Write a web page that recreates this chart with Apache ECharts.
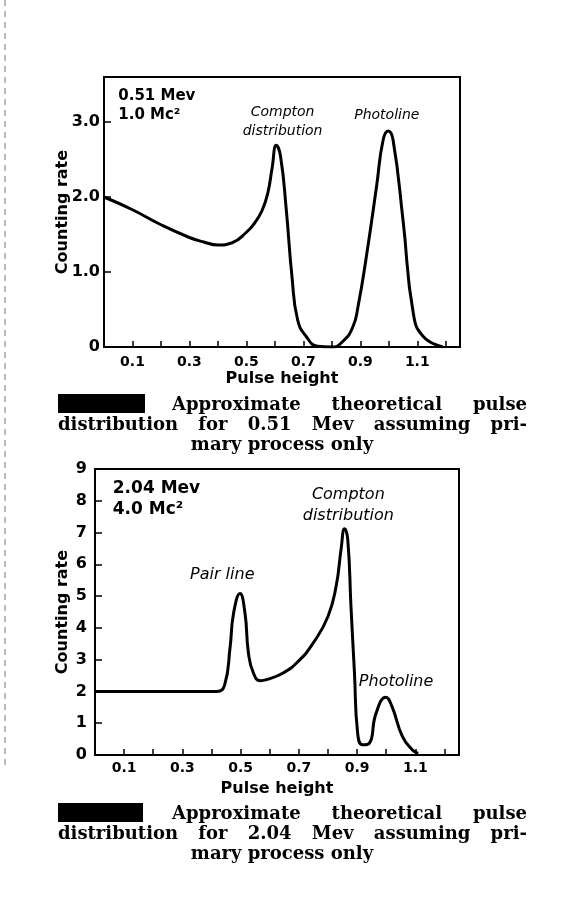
<!DOCTYPE html>
<html>
<head>
<meta charset="utf-8">
<script src="https://cdn.jsdelivr.net/npm/echarts@6/dist/echarts.min.js"></script>
<style>
  html, body { margin: 0; padding: 0; background: #fff; }
  #chart { width: 566px; height: 912px; }
</style>
</head>
<body>
<div id="chart"></div>
<script>
// pulse height / counting rate
const pulseTop = [0, 0.1, 0.2, 0.3, 0.35, 0.4, 0.45, 0.5, 0.53, 0.555, 0.575, 0.59, 0.605, 0.62, 0.64, 0.66, 0.68, 0.71, 0.75, 0.8, 0.84, 0.874, 0.892, 0.921, 0.957, 0.98, 0.998, 1.015, 1.05, 1.086, 1.121, 1.19];
const rateTop = [2.0, 1.83, 1.63, 1.46, 1.4, 1.36, 1.39, 1.53, 1.66, 1.82, 2.05, 2.38, 2.69, 2.54, 1.83, 0.94, 0.36, 0.14, 0.01, 0.0, 0.08, 0.27, 0.54, 1.2, 2.14, 2.76, 2.88, 2.76, 1.69, 0.45, 0.14, 0.0];

const pulseBottom = [0, 0.2, 0.419, 0.445, 0.464, 0.476, 0.498, 0.515, 0.527, 0.544, 0.567, 0.589, 0.646, 0.697, 0.749, 0.8, 0.828, 0.845, 0.857, 0.868, 0.879, 0.891, 0.902, 0.919, 0.942, 0.965, 0.999, 1.02, 1.056, 1.09, 1.11];
const rateBottom = [2.0, 2.0, 2.0, 2.2, 3.4, 4.47, 5.08, 4.47, 3.2, 2.58, 2.34, 2.37, 2.58, 2.94, 3.52, 4.36, 5.31, 6.47, 7.12, 6.78, 4.68, 2.58, 0.68, 0.32, 0.37, 1.31, 1.82, 1.52, 0.58, 0.16, 0.05];

// ticks and labels
const xTicks = [0.1, 0.2, 0.3, 0.4, 0.5, 0.6, 0.7, 0.8, 0.9, 1.0, 1.1, 1.2];
const xLabels = [0.1, 0.3, 0.5, 0.7, 0.9, 1.1];
const yTicksTop = [1, 2, 3];
const yLabelsTop = [0, 1, 2, 3];
const yTicksBottom = [1, 2, 3, 4, 5, 6, 7, 8];
const yLabelsBottom = [0, 1, 2, 3, 4, 5, 6, 7, 8, 9];

// annotations: [pulse, rate, text]
const notesTop = [
  [0.05, 3.22, '0.51 Mev\n1.0 Mc²'],
  [0.627, 3.0, 'Compton\ndistribution'],
  [0.993, 3.09, 'Photoline'],
];
const notesBottom = [
  [0.061, 8.04, '2.04 Mev\n4.0 Mc²'],
  [0.87, 7.85, 'Compton\ndistribution'],
  [0.437, 5.68, 'Pair line'],
  [1.034, 2.3, 'Photoline'],
];

const captionTop = [
  'Approximate theoretical pulse',
  'distribution for 0.51 Mev assuming pri-',
  'mary process only',
];
const captionBottom = [
  'Approximate theoretical pulse',
  'distribution for 2.04 Mev assuming pri-',
  'mary process only',
];

const sans = '"DejaVu Sans", sans-serif';
const captionFont = 'bold 18px "DejaVu Serif", serif';

const zip = (xs, ys) => xs.map((x, i) => [x, ys[i]]);

const xAxisFor = (gridIndex, nameGap, labelMargin) => ({
  type: 'value',
  gridIndex,
  min: 0,
  max: 1.25,
  interval: 0.1,
  name: 'Pulse height',
  nameLocation: 'middle',
  nameGap,
  nameMoveOverlap: false,
  nameTextStyle: { fontFamily: sans, fontSize: 16, fontWeight: 'bold', color: '#000' },
  axisLine: { lineStyle: { color: '#000', width: 2 } },
  axisTick: { inside: true, length: 6, customValues: xTicks, lineStyle: { color: '#000', width: 1.5 } },
  axisLabel: {
    customValues: xLabels,
    margin: labelMargin,
    fontFamily: sans,
    fontSize: 14,
    fontWeight: 'bold',
    color: '#000',
    formatter: (v) => v.toFixed(1),
  },
  splitLine: { show: false },
});

const yAxisFor = (gridIndex, max, ticks, labels, nameGap, labelMargin, fmt) => ({
  type: 'value',
  gridIndex,
  min: 0,
  max,
  interval: 1,
  name: 'Counting rate',
  nameLocation: 'middle',
  nameGap,
  nameMoveOverlap: false,
  nameRotate: 90,
  nameTextStyle: { fontFamily: sans, fontSize: 16, fontWeight: 'bold', color: '#000' },
  axisLine: { show: true, lineStyle: { color: '#000', width: 2 } },
  axisTick: { inside: true, length: 7, customValues: ticks, lineStyle: { color: '#000', width: 1.5 } },
  axisLabel: {
    customValues: labels,
    margin: labelMargin,
    fontFamily: sans,
    fontSize: 16,
    fontWeight: 'bold',
    color: '#000',
    formatter: fmt,
  },
  splitLine: { show: false },
});

const curve = (idx, xs, ys) => ({
  type: 'line',
  xAxisIndex: idx,
  yAxisIndex: idx,
  data: zip(xs, ys),
  smooth: 0.5,
  showSymbol: false,
  silent: true,
  lineStyle: { color: '#000', width: 3 },
});

const noteStyle = (text, size) => {
  const plain = /Mev/.test(text);
  return {
    show: true,
    position: 'inside',
    align: plain ? 'left' : 'center',
    verticalAlign: 'middle',
    fontFamily: sans,
    fontStyle: plain ? 'normal' : 'italic',
    fontWeight: plain ? 'bold' : 'normal',
    fontSize: plain ? size + 1 : size,
    lineHeight: size + 5,
    color: '#000',
    opacity: 1,
    formatter: () => text,
  };
};

const notes = (idx, list, size) => ({
  type: 'scatter',
  xAxisIndex: idx,
  yAxisIndex: idx,
  symbolSize: 1,
  silent: true,
  itemStyle: { color: 'transparent', opacity: 1 },
  data: list.map((n) => ({ value: [n[0], n[1]], label: noteStyle(n[2], size) })),
});

// caption: justified words like the printed page
const measure = document.createElement('canvas').getContext('2d');
measure.font = captionFont;
const justified = (line, left, right, y) => {
  const words = line.split(' ');
  const widths = words.map((w) => measure.measureText(w).width);
  const gap = (right - left - widths.reduce((a, b) => a + b, 0)) / (words.length - 1);
  let x = left;
  return words.map((w, i) => {
    const el = {
      type: 'text', x, y,
      style: { text: w, font: captionFont, fill: '#000', textAlign: 'left', textVerticalAlign: 'middle' },
    };
    x += widths[i] + gap;
    return el;
  });
};
const caption = (lines, top, barX, barW) => [
  { type: 'rect', shape: { x: barX, y: top - 11, width: barW, height: 19 }, style: { fill: '#000' } },
  ...justified(lines[0], 172, 527, top),
  ...justified(lines[1], 58, 527, top + 20),
  { type: 'text', x: 282, y: top + 40,
    style: { text: lines[2], font: captionFont, fill: '#000', textAlign: 'center', textVerticalAlign: 'middle' } },
];

const chart = echarts.init(document.getElementById('chart'), null, { renderer: 'canvas' });
chart.setOption({
  backgroundColor: '#fff',
  animation: false,
  grid: [
    { left: 104, top: 77, width: 356, height: 270, show: true, borderColor: '#000', borderWidth: 2 },
    { left: 95, top: 469, width: 364, height: 286, show: true, borderColor: '#000', borderWidth: 2 },
  ],
  xAxis: [xAxisFor(0, 24, 8), xAxisFor(1, 26, 6)],
  yAxis: [
    yAxisFor(0, 3.6, yTicksTop, yLabelsTop, 33, 4, (v) => (v === 0 ? '0' : v.toFixed(1))),
    yAxisFor(1, 9, yTicksBottom, yLabelsBottom, 24, 8, (v) => String(v)),
  ],
  series: [
    curve(0, pulseTop, rateTop),
    curve(1, pulseBottom, rateBottom),
    notes(0, notesTop, 14),
    notes(1, notesBottom, 16),
  ],
  graphic: [
    { type: 'line', shape: { x1: 5, y1: 0, x2: 5, y2: 770 }, style: { stroke: '#777', lineWidth: 1, lineDash: [6, 5] } },
    ...caption(captionTop, 405, 58, 87),
    ...caption(captionBottom, 814, 58, 85),
  ],
});
</script>
</body>
</html>
